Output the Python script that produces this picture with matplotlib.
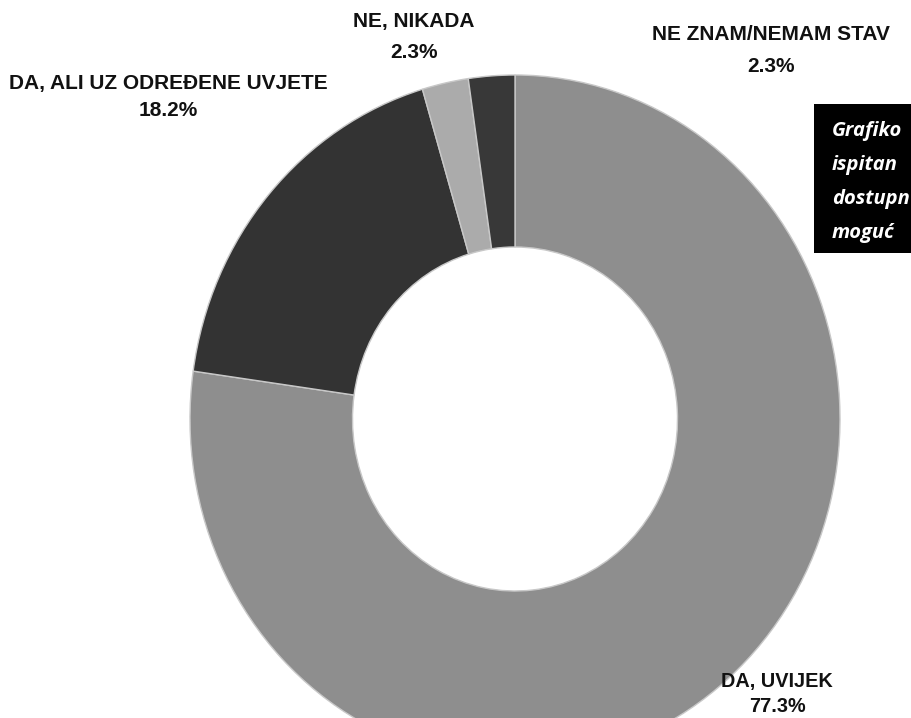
import matplotlib
matplotlib.use("Agg")
import matplotlib.pyplot as plt
from matplotlib.patches import Rectangle

categories = ["DA, UVIJEK", "DA, ALI UZ ODREĐENE UVJETE", "NE, NIKADA", "NE ZNAM/NEMAM STAV"]
values = [77.3, 18.2, 2.3, 2.3]
labels_pct = ["77.3%", "18.2%", "2.3%", "2.3%"]
colors = ["#8e8e8e", "#333333", "#ababab", "#383838"]
box_lines = ["Grafiko", "ispitan", "dostupn", "moguć"]

W, H = 911, 718
fig = plt.figure(figsize=(W / 100, H / 100), dpi=100)
fig.patch.set_facecolor("white")
ax = fig.add_axes([0, 0, 1, 1])

ax.pie(values, colors=colors, startangle=90, counterclock=False,
       wedgeprops=dict(width=0.5, edgecolor="#c8c8c8", linewidth=1.0))
ax.set_aspect("auto")
cx, cy = 515, 419   # pixel centre (from top)
rx, ry = 325, 344   # pixel radii
ax.set_xlim(-cx / rx, (W - cx) / rx)
ax.set_ylim(-(H - cy) / ry, cy / ry)
ax.axis("off")

def ftxt(x, y, s, **kw):
    fig.text(x / W, 1 - y / H, s, **kw)

lab_kw = dict(ha="center", va="center", fontweight="bold",
              family=["Liberation Sans", "DejaVu Sans"], color="#111111")
pos = {0: (777, 681, 706, 14.3), 1: (168, 84, 110, 15), 2: (414, 22, 52, 15), 3: (771, 34, 66, 15)}
for i, (x, y1, y2, fs) in pos.items():
    ftxt(x, y1, categories[i], fontsize=fs, **lab_kw)
    ftxt(x, y2, labels_pct[i], fontsize=fs, **lab_kw)

# black info box (cut at right edge)
fig.patches.append(Rectangle((814 / W, 1 - 253 / H), (W - 814) / W + 0.01, (253 - 104) / H,
                             transform=fig.transFigure, facecolor="black", edgecolor="none"))
for k, line in enumerate(box_lines):
    ftxt(832, 131 + k * 34, line, ha="left", va="center", fontsize=14.5,
         fontweight="bold", style="italic", color="white",
         family=["Open Sans", "DejaVu Sans"])

fig.savefig("out.png", dpi=100)
